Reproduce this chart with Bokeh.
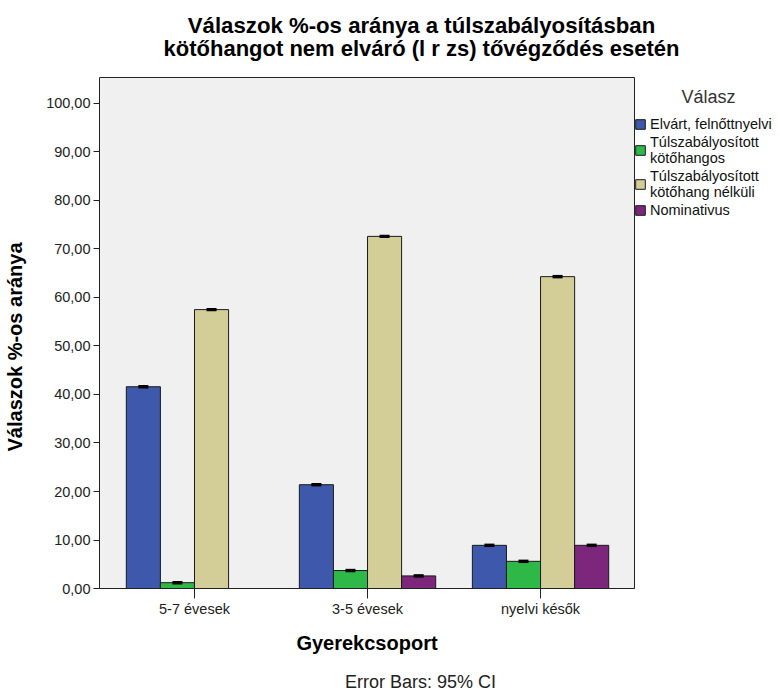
from bokeh.plotting import figure
from bokeh.models import (ColumnDataSource, Range1d, FixedTicker, Legend, LegendItem,
                          Whisker, TeeHead, Label)
from bokeh.embed import file_html
from bokeh.resources import INLINE

# ---- data ----
groups = ["5-7 évesek", "3-5 évesek", "nyelvi késők"]
series = ["Elvárt, felnőttnyelvi", "Túlszabályosított\nkötőhangos",
          "Túlszabályosított\nkötőhang nélküli", "Nominativus"]
colors = ["#3E58AC", "#2EB848", "#D3CE97", "#7C277C"]
elvart = [41.6, 21.4, 8.9]
tulsz_kotohangos = [1.2, 3.7, 5.6]
tulsz_nelkuli = [57.5, 72.6, 64.3]
nominativus = [float("nan"), 2.6, 8.9]
ci_half = [0.15, 0.15, 0.15]
yticks = [0, 10, 20, 30, 40, 50, 60, 70, 80, 90, 100]
ytick_labels = ["0,00", "10,00", "20,00", "30,00", "40,00", "50,00",
                "60,00", "70,00", "80,00", "90,00", "100,00"]
title_lines = ["Válaszok %-os aránya a túlszabályosításban",
               "kötőhangot nem elváró (l r zs) tővégződés esetén"]
x_title = "Gyerekcsoport"
y_title = "Válaszok %-os aránya"
legend_title = "Válasz"
footnote = "Error Bars: 95% CI"

values = [elvart, tulsz_kotohangos, tulsz_nelkuli, nominativus]
bar_w = 0.197
FONT = "Liberation Sans"

# plot-area extent (data units) and outer canvas extent
x_lo, x_hi = -0.549, 2.543
y_lo, y_hi = 0.0, 105.36
x_canvas_hi = 3.3868
y_canvas_lo, y_canvas_hi = -21.649, 121.236

p = figure(width=780, height=693, output_backend="svg", toolbar_location=None,
           x_range=Range1d(x_lo, x_canvas_hi), y_range=Range1d(y_canvas_lo, y_canvas_hi),
           min_border_left=99, min_border_right=0, min_border_top=0,
           min_border_bottom=0)
p.background_fill_color = "white"
p.border_fill_color = "white"
p.outline_line_color = None
p.xgrid.visible = False
p.ygrid.visible = False

# plot area background with its frame
p.quad(left=[x_lo], right=[x_hi], bottom=[y_lo], top=[y_hi],
       fill_color="#F0F0F0", line_color="#222222", line_width=1)

renderers = []
for k, (vals, col) in enumerate(zip(values, colors)):
    off = (k - 1.5) * bar_w
    xs = [i + off for i in range(len(groups))]
    lo = [v - c for v, c in zip(vals, ci_half)]
    hi = [v + c for v, c in zip(vals, ci_half)]
    src = ColumnDataSource(dict(x=xs, top=vals, lo=lo, hi=hi))
    r = p.vbar(x="x", top="top", bottom=0, width=bar_w, source=src,
               fill_color=col, line_color="#1a1a1a", line_width=1)
    renderers.append(r)
    wh = Whisker(base="x", upper="hi", lower="lo", source=src, dimension="height",
                 level="overlay", line_color="black", line_width=1,
                 upper_head=TeeHead(size=10, line_width=2, line_color="black"),
                 lower_head=TeeHead(size=10, line_width=2, line_color="black"))
    p.add_layout(wh)

# axes
p.yaxis.ticker = FixedTicker(ticks=yticks)
p.yaxis.major_label_overrides = {t: s for t, s in zip(yticks, ytick_labels)}
p.yaxis.bounds = (y_lo, y_hi)
p.xaxis.ticker = FixedTicker(ticks=list(range(len(groups))))
p.xaxis.major_label_overrides = {i: g for i, g in enumerate(groups)}
p.xaxis.bounds = (x_lo, x_hi)
p.xaxis.fixed_location = 0
for ax in (p.xaxis, p.yaxis):
    ax.minor_tick_line_color = None
    ax.major_tick_in = 0
    ax.axis_line_color = "#222222"
    ax.major_tick_line_color = "#222222"
    ax.major_label_text_font = FONT
    ax.major_label_text_font_size = "14.5px"
    ax.major_label_text_color = "#222222"
    ax.axis_label_text_font = FONT
    ax.axis_label_text_font_size = "20px"
    ax.axis_label_text_font_style = "bold"
    ax.axis_label_text_color = "black"
p.yaxis.major_tick_out = 6
p.yaxis.major_label_standoff = 3
p.yaxis.axis_label = y_title
p.yaxis.axis_label_standoff = 17
p.xaxis.major_tick_out = 10
p.xaxis.major_label_standoff = 2
p.xaxis.axis_label = x_title
p.xaxis.axis_label_standoff = 12

# texts
def add_text(txt, x, y, size, bold=False, color="black"):
    p.add_layout(Label(x=x, y=y, text=txt, text_font=FONT, text_font_size=size,
                       text_font_style="bold" if bold else "normal",
                       text_align="center", text_baseline="middle",
                       text_color=color))

add_text(title_lines[0], 1.312, 116.08, "22.2px", bold=True)
add_text(title_lines[1], 1.312, 111.34, "22px", bold=True)
add_text(legend_title, 2.971, 101.44, "18px", color="#333333")
add_text(footnote, 1.306, -19.38, "18px", color="#222222")

legend = Legend(items=[LegendItem(label=s, renderers=[r]) for s, r in zip(series, renderers)],
                location=(535, 475), orientation="vertical",
                glyph_width=12, glyph_height=12, label_standoff=4,
                label_text_font=FONT, label_text_font_size="14.5px",
                label_text_color="#111111",
                label_text_line_height=1.1, label_height=16, spacing=2,
                padding=1, margin=0, border_line_color=None,
                background_fill_alpha=0)
p.add_layout(legend, "center")

open("out.html", "w").write(file_html(p, INLINE))
